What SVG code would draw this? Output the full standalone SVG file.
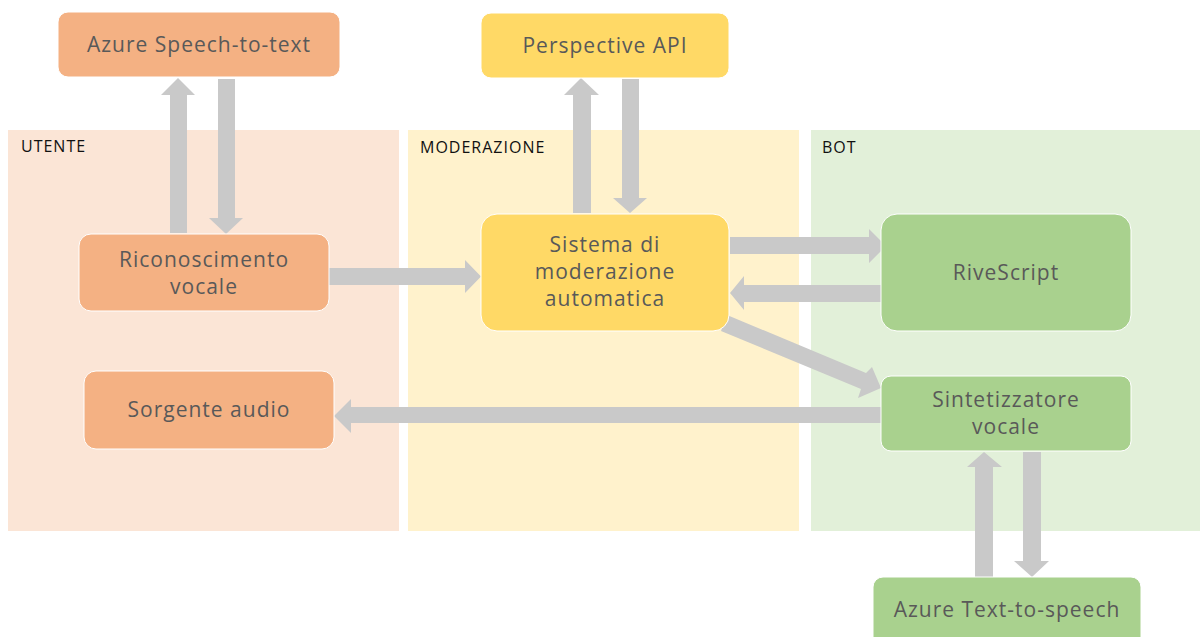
<svg xmlns="http://www.w3.org/2000/svg" width="1200" height="637" viewBox="0 0 1200 637">
<style>
.lane-label{font-family:"Open Sans","Liberation Sans",sans-serif;font-size:16px;letter-spacing:1px;fill:#111;}
.t{font-family:"Open Sans","Liberation Sans",sans-serif;font-size:21px;letter-spacing:1px;fill:#595959;text-anchor:middle;}
.o{fill:#F4B183;stroke:#fff;stroke-width:1;}
.y{fill:#FFD966;stroke:#fff;stroke-width:1;}
.g{fill:#A9D18E;stroke:#fff;stroke-width:1;}
.arr{fill:#C9C9C9;}
</style>
<rect width="1200" height="637" fill="#fff"/>
<g id="lanes">
<rect x="8" y="130" width="391" height="401" fill="#FBE5D6"/>
<rect x="408" y="130" width="391" height="401" fill="#FFF2CC"/>
<rect x="811" y="130" width="389" height="401" fill="#E2F0D9"/>
<text class="lane-label" x="21" y="152">UTENTE</text>
<text class="lane-label" x="420" y="153">MODERAZIONE</text>
<text class="lane-label" x="822" y="153">BOT</text>
</g>
<g id="connectors">
<polygon class="arr" points="170,233 170,95 161,95 178,78 195,95 187,95 187,233"/>
<polygon class="arr" points="218,79 235,79 235,218 243,218 226,234 209,218 218,218"/>
<polygon class="arr" points="573,213 573,95 564,95 581,78 599,95 591,95 591,213"/>
<polygon class="arr" points="622,79 639,79 639,198 647,198 630,213 613,198 622,198"/>
<polygon class="arr" points="329,268 465,268 465,260 481,276.5 465,293 465,285 329,285"/>
<polygon class="arr" points="730,237 869,237 869,229 886,246 869,263 869,254 730,254"/>
<polygon class="arr" points="881,285 744,285 744,276 730,293 744,310 744,302 881,302"/>
<polygon class="arr" points="881,407 351,407 351,399 334,416 351,433 351,423 881,423"/>
<polygon class="arr" points="975,577 975,467 967,467 984,452 1002,467 993,467 993,577"/>
<polygon class="arr" points="1023,452 1041,452 1041,561 1049,561 1032,577 1014,561 1023,561"/>
<polygon class="arr" points="727,315 866,373 872,367 881,388 858,398 861,389 721,331"/>
</g>
<g id="azure-stt">
<rect class="o" x="58" y="12" width="282" height="65" rx="10"/>
<text class="t" x="199" y="52">Azure Speech-to-text</text>
</g>
<g id="perspective">
<rect class="y" x="481" y="13" width="248" height="65" rx="10"/>
<text class="t" x="605" y="53">Perspective API</text>
</g>
<g id="riconoscimento">
<rect class="o" x="79" y="234" width="250" height="77" rx="12"/>
<text class="t" x="204" y="267">Riconoscimento</text>
<text class="t" x="204" y="294">vocale</text>
</g>
<g id="sistema">
<rect class="y" x="481" y="214" width="248" height="117" rx="16"/>
<text class="t" x="605" y="252">Sistema di</text>
<text class="t" x="605" y="279">moderazione</text>
<text class="t" x="605" y="306">automatica</text>
</g>
<g id="rivescript">
<rect class="g" x="881" y="214" width="250" height="117" rx="16"/>
<text class="t" x="1006" y="280">RiveScript</text>
</g>
<g id="sintetizzatore">
<rect class="g" x="881" y="376" width="250" height="75" rx="10"/>
<text class="t" x="1006" y="407">Sintetizzatore</text>
<text class="t" x="1006" y="434">vocale</text>
</g>
<g id="sorgente">
<rect class="o" x="84" y="371" width="250" height="78" rx="12"/>
<text class="t" x="209" y="417">Sorgente audio</text>
</g>
<g id="azure-tts">
<rect class="g" x="873" y="577" width="268" height="80" rx="10"/>
<text class="t" x="1007" y="617">Azure Text-to-speech</text>
</g>
</svg>
